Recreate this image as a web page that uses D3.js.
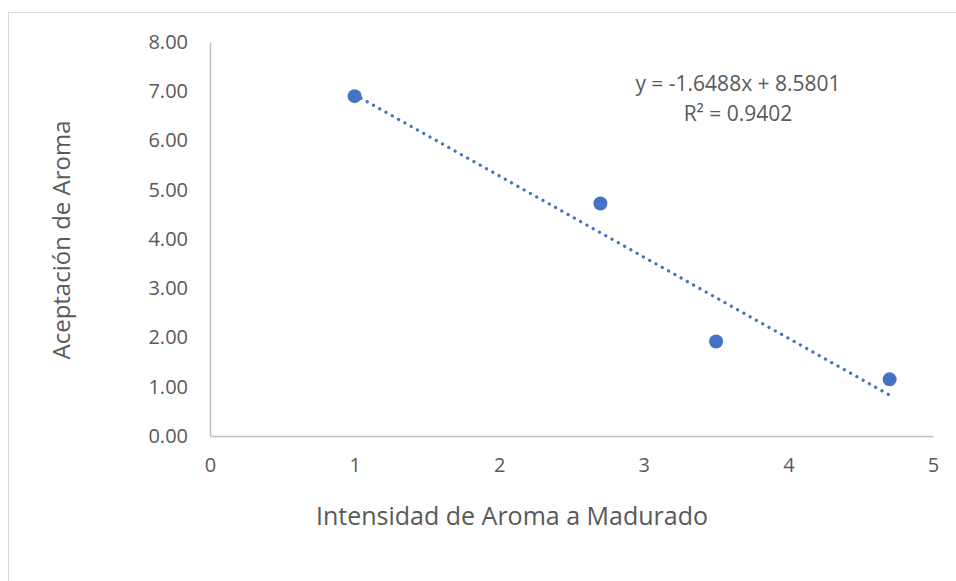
<!DOCTYPE html>
<html>
<head>
    <script src="https://d3js.org/d3.v7.min.js"></script>
    <style>
        body { margin: 0; background: #fff; }
        text { font-family: "Open Sans", "Liberation Sans", sans-serif; fill: #595959; }
    </style>
</head>
<body>
    <div id="chart"></div>
    <script>
        // Data
        const intensidad = [1, 2.7, 3.5, 4.7];
        const aceptacion = [6.90, 4.72, 1.92, 1.15];
        const xTicks = [0, 1, 2, 3, 4, 5];
        const yTicks = [0, 1, 2, 3, 4, 5, 6, 7, 8];
        const slope = -1.6488, intercept = 8.5801, r2 = 0.9402;

        const width = 956, height = 581;
        const svg = d3.select("#chart").append("svg")
            .attr("width", width)
            .attr("height", height);

        // chart border
        svg.append("rect")
            .attr("x", 8.5).attr("y", 12.5)
            .attr("width", 960).attr("height", 600)
            .attr("fill", "none")
            .attr("stroke", "#d9d9d9");

        const x = d3.scaleLinear().domain([0, 5]).range([210, 933]);
        const y = d3.scaleLinear().domain([0, 8]).range([436, 42]);

        // axes
        const xAxis = svg.append("g")
            .attr("transform", `translate(0,${y(0)})`)
            .call(d3.axisBottom(x).tickValues(xTicks).tickSize(0).tickPadding(22).tickFormat(d3.format("d")));
        const yAxis = svg.append("g")
            .attr("transform", `translate(${x(0)},0)`)
            .call(d3.axisLeft(y).tickValues(yTicks).tickSize(0).tickPadding(22).tickFormat(d3.format(".2f")));

        [xAxis, yAxis].forEach(g => {
            g.select(".domain").attr("stroke", "#bfbfbf").attr("stroke-width", 1.5);
            g.selectAll("text").style("font-size", "20px").attr("fill", "#595959");
        });

        // trendline
        const xs = d3.extent(intensidad);
        svg.append("line")
            .attr("x1", x(xs[0])).attr("y1", y(slope * xs[0] + intercept))
            .attr("x2", x(xs[1])).attr("y2", y(slope * xs[1] + intercept))
            .attr("stroke", "#4472c4")
            .attr("stroke-width", 3.2)
            .attr("stroke-linecap", "round")
            .attr("stroke-dasharray", "0.1 7.1");

        // points
        svg.append("g")
            .selectAll("circle")
            .data(intensidad.map((d, i) => [d, aceptacion[i]]))
            .enter()
            .append("circle")
            .attr("cx", d => x(d[0]))
            .attr("cy", d => y(d[1]))
            .attr("r", 7)
            .attr("fill", "#4472c4");

        // equation label
        svg.append("text")
            .attr("x", 738).attr("y", 91)
            .attr("text-anchor", "middle")
            .style("font-size", "21px")
            .text(`y = ${slope}x + ${intercept}`);
        svg.append("text")
            .attr("x", 738).attr("y", 121)
            .attr("text-anchor", "middle")
            .style("font-size", "21px")
            .text(`R² = ${r2}`);

        // axis titles
        svg.append("text")
            .attr("x", 512).attr("y", 525)
            .attr("text-anchor", "middle")
            .style("font-size", "25px")
            .text("Intensidad de Aroma a Madurado");
        svg.append("text")
            .attr("transform", "translate(70,240) rotate(-90)")
            .attr("text-anchor", "middle")
            .style("font-size", "24px")
            .text("Aceptación de Aroma");
    </script>
</body>
</html>
